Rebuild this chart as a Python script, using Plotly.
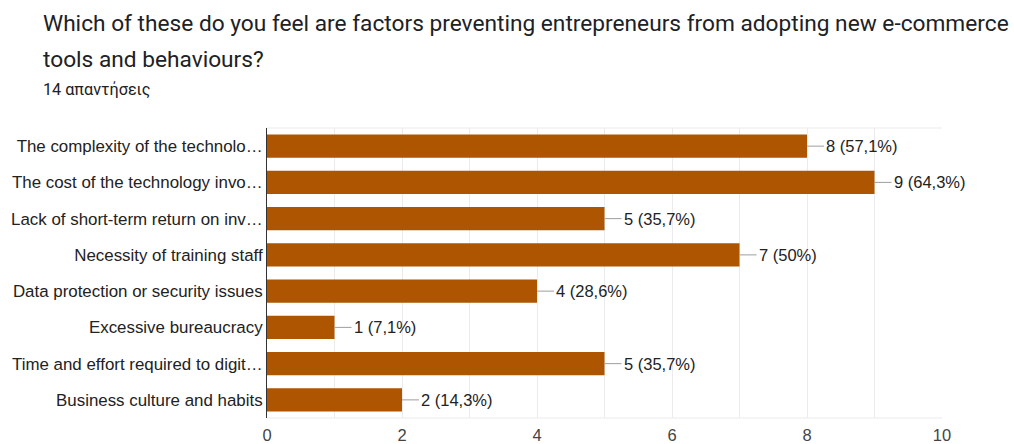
import plotly.graph_objects as go

categories = [
    "The complexity of the technolo…",
    "The cost of the technology invo…",
    "Lack of short-term return on inv…",
    "Necessity of training staff",
    "Data protection or security issues",
    "Excessive bureaucracy",
    "Time and effort required to digit…",
    "Business culture and habits",
]
counts = [8, 9, 5, 7, 4, 1, 5, 2]
percents = ["57,1%", "64,3%", "35,7%", "50%", "28,6%", "7,1%", "35,7%", "14,3%"]
x_ticks = [0, 2, 4, 6, 8, 10]

title_line1 = "Which of these do you feel are factors preventing entrepreneurs from adopting new e-commerce"
title_line2 = "tools and behaviours?"
subtitle = "14 απαντήσεις"

W, H = 1014, 444
ML, MR, MT, MB = 267, 72, 128, 26
PW = W - ML - MR
PH = H - MT - MB

def px_x(p):
    return (p - ML) / PW

def px_y(p):
    return (H - MB - p) / PH

fig = go.Figure()
fig.add_trace(go.Bar(
    x=counts, y=categories, orientation="h",
    marker=dict(color="#AD5500", line=dict(width=0)),
    hoverinfo="skip",
))

annotations = []
for c, v, p in zip(categories, counts, percents):
    annotations.append(dict(
        x=v, y=c, xref="x", yref="y",
        text=f"{v} ({p})", showarrow=True, arrowhead=0, arrowwidth=1,
        arrowcolor="#9e9e9e", ax=17, ay=0, xanchor="left", yanchor="middle",
        standoff=0, startstandoff=0,
        font=dict(family="Arial, Liberation Sans, sans-serif", size=16.5, color="#222222"),
    ))

title_font = dict(family="Roboto, sans-serif", size=22.7, color="#202124")
annotations += [
    dict(text=title_line1, xref="paper", yref="paper", x=px_x(41), y=px_y(24),
         xanchor="left", yanchor="middle", showarrow=False, font=title_font),
    dict(text=title_line2, xref="paper", yref="paper", x=px_x(41), y=px_y(59),
         xanchor="left", yanchor="middle", showarrow=False, font=title_font),
    dict(text=subtitle, xref="paper", yref="paper", x=px_x(41), y=px_y(89),
         xanchor="left", yanchor="middle", showarrow=False,
         font=dict(family="Roboto, sans-serif", size=16.2, color="#202124")),
]

fig.update_layout(
    width=W, height=H,
    margin=dict(l=ML, r=MR, t=MT, b=MB, pad=0, autoexpand=False),
    paper_bgcolor="white", plot_bgcolor="white",
    showlegend=False, bargap=0.36,
    annotations=annotations,
    xaxis=dict(
        range=[0, 10], tickvals=x_ticks, ticktext=[str(t) for t in x_ticks],
        showgrid=True, gridcolor="#ebebeb", gridwidth=1,
        minor=dict(dtick=1, showgrid=True, gridcolor="#ebebeb", gridwidth=1),
        zeroline=False, showline=False, ticks="", automargin=False,
        ticklabelstandoff=5,
        tickfont=dict(family="Arial, Liberation Sans, sans-serif", size=16.5, color="#444444"),
        fixedrange=True,
    ),
    yaxis=dict(
        categoryorder="array", categoryarray=categories[::-1],
        autorange=False, range=[-0.5, len(categories) - 0.5],
        showgrid=False, zeroline=False, showline=True, linecolor="#333333", linewidth=1,
        ticks="", ticklabelstandoff=0, automargin=False,
        tickfont=dict(family="Arial, Liberation Sans, sans-serif", size=16.9, color="#222222"),
        fixedrange=True,
    ),
    shapes=[
        dict(type="line", xref="paper", yref="paper", x0=0, x1=1, y0=1, y1=1,
             line=dict(color="#ebebeb", width=1), layer="below"),
        dict(type="line", xref="paper", yref="paper", x0=0, x1=1, y0=0, y1=0,
             line=dict(color="#ebebeb", width=1), layer="below"),
    ],
)

fig.write_html("out.html", config={"displayModeBar": False})
